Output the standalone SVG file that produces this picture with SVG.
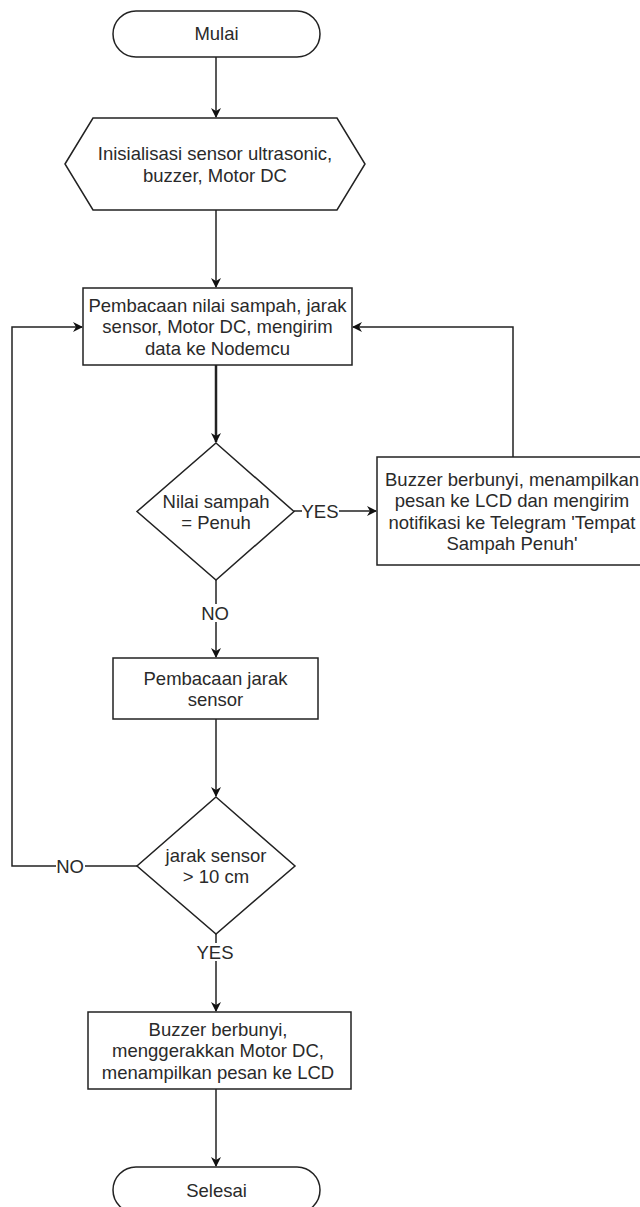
<svg xmlns="http://www.w3.org/2000/svg" width="640" height="1207" viewBox="0 0 640 1207">
<style>
.s{fill:#fff;stroke:#222;stroke-width:1.5}
.t{font-family:"Liberation Sans",Arial,sans-serif;font-size:18.5px;fill:#2a2a2a;text-anchor:middle}
.c{fill:none;stroke:#222;stroke-width:1.5}
.lb{fill:#fff}
</style>
<defs>
<marker id="a" viewBox="0 0 10 10" refX="9" refY="5" markerWidth="10" markerHeight="10" markerUnits="userSpaceOnUse" orient="auto">
<path d="M0,0 L10,5 L0,10 L3,5 Z" fill="#111"/>
</marker>
</defs>
<rect width="640" height="1207" fill="#fff"/>
<g id="connectors">
<path class="c" d="M216,57 V117" marker-end="url(#a)"/>
<path class="c" d="M216,210 V287" marker-end="url(#a)"/>
<path class="c" d="M216,365 V442" style="stroke-width:2.5" marker-end="url(#a)"/>
<path class="c" d="M294,511 H376" marker-end="url(#a)"/>
<path class="c" d="M513,457 V327 H353" marker-end="url(#a)"/>
<path class="c" d="M216,580 V657" marker-end="url(#a)"/>
<path class="c" d="M216,719 V796" marker-end="url(#a)"/>
<path class="c" d="M137,866 H12 V327 H82" marker-end="url(#a)"/>
<path class="c" d="M216,934 V1011" marker-end="url(#a)"/>
<path class="c" d="M216,1089 V1166" marker-end="url(#a)"/>
<rect class="lb" x="302" y="502" width="37" height="18"/>
<text class="t" x="320" y="517.5">YES</text>
<rect class="lb" x="201" y="604" width="29" height="18"/>
<text class="t" x="215" y="619.5">NO</text>
<rect class="lb" x="56" y="857" width="29" height="18"/>
<text class="t" x="70" y="872.5">NO</text>
<rect class="lb" x="197" y="943" width="37" height="18"/>
<text class="t" x="215" y="958.5">YES</text>
</g>
<g id="mulai">
<rect class="s" x="113" y="11" width="207" height="46" rx="23"/>
<text class="t" x="216.5" y="40">Mulai</text>
</g>
<g id="inisialisasi">
<polygon class="s" points="65,164 93,118 337,118 365,164 337,210 93,210"/>
<text class="t" x="215" y="159.5">Inisialisasi sensor ultrasonic,</text>
<text class="t" x="215" y="181.5">buzzer, Motor DC</text>
</g>
<g id="pembacaan1">
<rect class="s" x="83" y="288" width="269" height="77"/>
<text class="t" x="217.5" y="311.5">Pembacaan nilai sampah, jarak</text>
<text class="t" x="217.5" y="333">sensor, Motor DC, mengirim</text>
<text class="t" x="217.5" y="354.5">data ke Nodemcu</text>
</g>
<g id="cek-penuh">
<polygon class="s" points="216,443 294,511.5 216,580 137,511.5"/>
<text class="t" x="216" y="507.5">Nilai sampah</text>
<text class="t" x="216" y="529">= Penuh</text>
</g>
<g id="notif">
<rect class="s" x="377" y="457" width="272" height="108"/>
<text class="t" x="512" y="485.5">Buzzer berbunyi, menampilkan</text>
<text class="t" x="512" y="507">pesan ke LCD dan mengirim</text>
<text class="t" x="512" y="528.5">notifikasi ke Telegram 'Tempat</text>
<text class="t" x="512" y="550">Sampah Penuh'</text>
</g>
<g id="pembacaan2">
<rect class="s" x="113" y="658" width="205" height="61"/>
<text class="t" x="215.5" y="684.5">Pembacaan jarak</text>
<text class="t" x="215.5" y="706">sensor</text>
</g>
<g id="cek-jarak">
<polygon class="s" points="216,797 295,866 216,934 137,866"/>
<text class="t" x="216" y="861.5">jarak sensor</text>
<text class="t" x="216" y="883">&gt; 10 cm</text>
</g>
<g id="aksi">
<rect class="s" x="88" y="1012" width="263" height="77"/>
<text class="t" x="218" y="1035.5">Buzzer berbunyi,</text>
<text class="t" x="218" y="1057">menggerakkan Motor DC,</text>
<text class="t" x="218" y="1078.5">menampilkan pesan ke LCD</text>
</g>
<g id="selesai">
<rect class="s" x="113" y="1167" width="207" height="46" rx="23"/>
<text class="t" x="216.5" y="1196.5">Selesai</text>
</g>
</svg>
